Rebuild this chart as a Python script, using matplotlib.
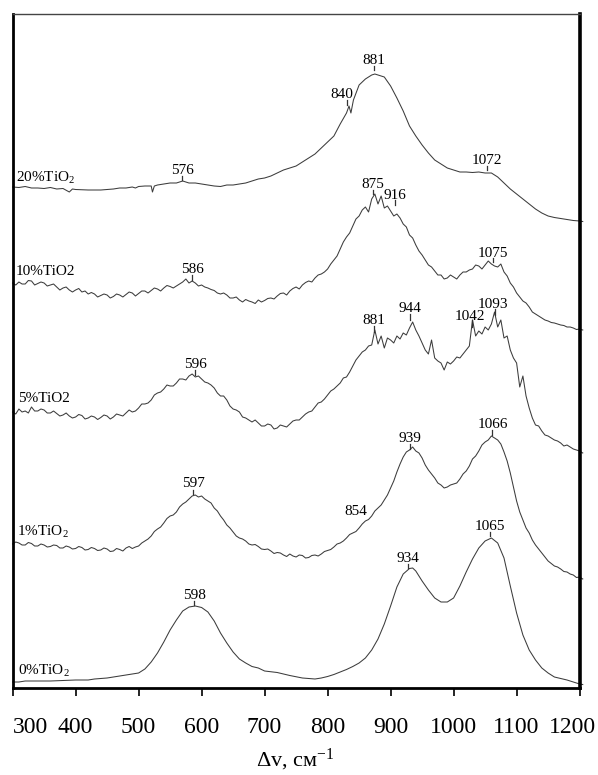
import matplotlib
matplotlib.use('Agg')
import matplotlib.pyplot as plt
import matplotlib.transforms as mtransforms

plt.rcParams['font.family'] = ['Liberation Serif', 'DejaVu Serif']
plt.rcParams['mathtext.fontset'] = 'custom'
plt.rcParams['mathtext.rm'] = 'Liberation Serif'
plt.rcParams['mathtext.default'] = 'regular'

# Raman shift grid (cm-1) for the noisy spectra, 5 cm-1 steps, 300..1205
shift = list(range(300, 1206, 5))

# 0% TiO2 (smooth)
x0 = [300, 310, 320, 340, 360, 380, 400, 420, 430, 450, 470, 490, 500, 510, 520, 530, 540, 550, 560, 570,
      580, 590, 600, 610, 620, 630, 640, 650, 660, 670, 680, 690, 700, 720, 740, 760, 780, 790, 800, 810,
      820, 830, 840, 850, 860, 870, 880, 890, 900, 910, 920, 930, 935, 940, 950, 960, 970, 980, 990, 1000,
      1010, 1020, 1030, 1040, 1050, 1060, 1070, 1080, 1090, 1100, 1110, 1120, 1130, 1140, 1150, 1160, 1170, 1180, 1190, 1200,
      1205]
y0 = [6, 6, 7, 7, 7, 7.5, 8, 8, 9, 10, 12, 14, 15, 19, 26, 35, 46, 58, 68, 77,
      81, 82, 80.5, 76, 67, 55, 45, 36, 29, 25, 21.5, 20, 17, 15.5, 12.5, 10, 9, 10, 11.5, 13.5,
      16, 18.5, 21.5, 25, 30, 38, 49, 64, 82, 101, 114, 119.5, 120, 117, 107, 98, 90, 86, 86, 90,
      102, 116, 129, 140, 147, 150, 145, 130, 102, 75, 53, 38, 28, 20, 15, 11, 9.5, 8, 6, 4,
      3.5]

# 1% TiO2 (on shift grid)
y1 = [144, 146, 145, 143, 143, 145.5, 144.5, 142, 142, 144, 143, 141, 141.5, 143, 142.5, 140, 140, 142, 141, 139,
      139.5, 141.5, 140.5, 138, 138.5, 140.5, 139.5, 137.5, 138, 140, 139, 136.5, 137, 139.5, 138.5, 137, 140, 141.5, 139.5, 141,
      142, 145, 147, 149, 152, 156.5, 159, 161, 165, 169.5, 172, 173, 176, 181, 184, 186, 189, 192, 193, 191,
      192, 189, 187, 185, 180, 177, 172, 168, 163, 160, 156, 152, 150, 149, 147, 144, 143, 143.5, 141.5, 139,
      138.5, 139, 137, 134.5, 135.5, 135, 133, 131.5, 134, 132, 131, 133, 132.5, 130, 130.5, 132.5, 133, 132, 134, 136.5,
      137.5, 138.5, 141, 144, 145, 147, 150, 153.5, 155, 156.5, 160, 164, 167, 168.5, 172, 177, 180, 183, 188, 193,
      200, 207, 216, 224, 231, 236, 238, 241, 237, 235, 230, 223, 218, 214, 210, 205, 203, 200, 201, 203,
      204, 205, 209, 214, 217, 222, 229, 232, 237, 243, 246, 248, 252, 250, 248, 244, 236, 227, 215, 201,
      187, 176, 168, 160, 155, 148, 143, 139, 135, 131, 127, 124.5, 122, 121, 119, 116.5, 116, 114, 113, 110.5,
      111, 109]

# 5% TiO2 (on shift grid)
y5 = [276, 274, 279, 276, 277, 275, 281, 277, 277, 279, 278, 275, 275, 277, 274.5, 272, 273, 275, 272, 270,
      271, 273.5, 272.5, 269, 270, 272, 271, 268.5, 270.5, 273, 272, 269, 271, 274, 273, 272, 275, 278, 276, 277,
      280, 284, 284, 285, 288, 293, 295, 296, 299, 303, 302, 302, 305, 309, 309, 308, 312, 314, 311, 312,
      309, 306, 305, 303, 300, 295, 292, 292, 288, 282, 279, 278, 276, 271, 270, 268, 266, 268, 265, 262,
      262, 264, 263, 259, 260, 263, 262, 261, 264, 267, 268, 268, 271, 274, 276, 277, 281, 285, 286, 289,
      293, 297, 299, 302, 305, 310, 311, 316, 322, 328, 332, 336, 338, 342, 343, 358, 344, 352, 340, 350,
      348, 345, 352, 349, 355, 353, 360, 366, 358, 352, 345, 338, 334, 348, 330, 327, 325, 318, 326, 324,
      327, 331, 330, 334, 338, 342, 368, 352, 357, 354, 361, 358, 364, 376, 361, 368, 350, 352, 338, 330,
      325, 301, 312, 292, 280, 270, 263, 262, 257, 253, 252, 250, 248, 247, 245, 242, 243, 241, 239, 238,
      237, 235]

# 10% TiO2 (on shift grid)
y10 = [405, 403, 406, 404, 404, 407.5, 407, 403, 404.5, 406, 405, 402, 403, 404, 401, 398, 400, 401, 398, 396,
       398, 399.5, 396, 397, 394, 395.5, 394, 391, 392.5, 394, 393, 390, 391.5, 394, 393, 391, 393.5, 396, 395, 392,
       394.5, 397, 397, 395, 397.5, 400, 399, 397, 400, 402.5, 401.5, 400, 402, 404, 406, 409, 405, 407, 405, 402,
       403, 401, 400, 398.5, 397.5, 395, 394, 395, 393, 390, 390, 391, 388, 386, 388.5, 387, 386, 384.5, 388, 386,
       387.5, 389.5, 390, 389, 392, 394.5, 395, 393, 397, 399.5, 401, 399, 403, 405.5, 407, 406, 410, 413, 414, 416,
       419, 424, 428, 432, 439, 446, 451, 455, 462, 469, 472, 478, 481, 476, 489, 494, 484, 492, 480, 482,
       477, 472, 474, 470, 464, 461, 453, 450, 443, 437, 433, 428, 423, 421, 417, 413, 413, 409, 410, 413,
       411, 409, 413, 416, 416, 418, 419, 423, 422, 419, 423, 427, 424, 422, 421, 424, 416, 412, 405, 401,
       395, 391, 387, 385, 381, 376, 374, 372, 370, 368, 367, 365.5, 365, 364, 363, 362.5, 361, 361, 360, 358.5,
       359, 358]

# 20% TiO2
x20 = [300, 310, 320, 330, 340, 350, 360, 370, 380, 390, 395, 400, 420, 440, 460, 470, 480, 490, 495, 500,
       510, 520, 522, 525, 530, 540, 550, 560, 570, 575, 580, 590, 600, 610, 620, 630, 640, 650, 660, 670,
       680, 690, 700, 710, 720, 730, 740, 750, 760, 770, 780, 790, 800, 810, 820, 830, 834, 837, 841, 850,
       860, 870, 875, 880, 890, 900, 910, 920, 930, 940, 950, 960, 970, 980, 990, 1000, 1010, 1020, 1030, 1040,
       1050, 1060, 1070, 1080, 1090, 1100, 1110, 1120, 1130, 1140, 1150, 1160, 1170, 1180, 1190, 1200, 1205]
y20 = [501, 500.5, 501.5, 500, 500, 499.5, 500.5, 499, 499.5, 496, 499, 498.5, 498, 498, 499, 500, 500, 501, 500, 501.5,
       502, 502, 496, 502, 503, 504, 505, 505, 507, 506, 505, 505, 504, 503, 502, 501.5, 503, 503, 504, 505,
       507, 509, 510, 512, 515, 518, 520, 522, 526, 530, 534, 540, 546, 552, 564, 575, 582, 575, 588, 603,
       609, 613, 614, 613, 611, 602, 590, 577, 562, 552, 543, 535, 528, 524, 520, 518, 516, 516, 515.5, 516,
       515, 515, 511, 505, 499, 494, 489, 484, 479, 475, 472, 470.5, 469.5, 468.5, 467.5, 467, 466.5]

spectra = [(x0, y0), (shift, y1), (shift, y5), (shift, y10), (x20, y20)]

# sample names: (text, x, baseline)
names = [('0%TiO$_2$', 309, 13), ('1%TiO$_2$', 307.5, 152), ('5%TiO2', 309, 286),
         ('10%TiO2', 305, 413), ('20%TiO$_2$', 305.4, 506)]

# peak marks: (label, x text, text baseline, x tick, tick bottom, tick top)
peaks = [('881', 874, 624, 874, 618, 622), ('840', 823, 590, 831, 583, 588),
         ('576', 569, 514, 569, 508, 512), ('1072', 1053, 524, 1053, 518, 522),
         ('875', 872, 500, 872, 494, 498), ('916', 907, 489, 907, 483, 488),
         ('586', 585, 415, 585, 408, 413), ('1075', 1063, 431, 1063, 426, 430),
         ('596', 590, 320, 590, 313, 318), ('881', 874, 364, 874, 356, 362),
         ('944', 931, 376, 931, 368, 374), ('1042', 1026, 368, 1029, 361, 368),
         ('1093', 1063, 380, 1066, 373, 379), ('1066', 1063, 260, 1061, 253, 258),
         ('939', 931, 246, 931, 239, 244), ('597', 587, 201, 587, 194, 198),
         ('854', 844, 173, None, None, None), ('598', 588, 89, 588, 83, 87),
         ('934', 928, 126, 928, 120, 124), ('1065', 1058, 158, 1058, 152, 156)]

xticks = [300, 400, 500, 600, 700, 800, 900, 1000, 1100, 1200]

fig = plt.figure(figsize=(5.98, 7.75), dpi=100)
ax = fig.add_axes([12.6 / 598, 87 / 775, 567 / 598, 674 / 775])

for xs, ys in spectra:
    ax.plot(xs, ys, color='#3c3c3c', lw=0.75, clip_on=False)

for txt, xt, yb in names:
    ax.text(xt, yb, txt, fontsize=11, ha='left', va='baseline')

for lab, xt, yt, xk, k0, k1 in peaks:
    ax.text(xt, yt, lab, fontsize=11, ha='center', va='baseline')
    if xk is not None:
        ax.plot([xk, xk], [k0, k1], color='#333333', lw=0.9)

ax.set_xlim(300, 1200)
ax.set_ylim(0, 674)
ax.set_yticks([])
ax.set_xticks(xticks)
ax.set_xticklabels([str(t) for t in xticks], fontsize=17)
ax.tick_params(axis='x', direction='out', length=6, width=1.2, pad=15)

for side in ['left', 'bottom', 'right']:
    ax.spines[side].set_linewidth(2.0)
ax.spines['right'].set_linewidth(2.6)
ax.spines['top'].set_linewidth(1.0)
ax.spines['top'].set_color('#444444')

labs = ax.get_xticklabels()
labs[0].set_ha('left')
labs[-1].set_transform(labs[-1].get_transform() +
                       mtransforms.ScaledTranslation(-0.07, 0, fig.dpi_scale_trans))

fig.text(295 / 598, 0.002, 'Δv, см$^{-1}$', fontsize=16, ha='center', va='bottom')

fig.savefig('out.png', dpi=100)
